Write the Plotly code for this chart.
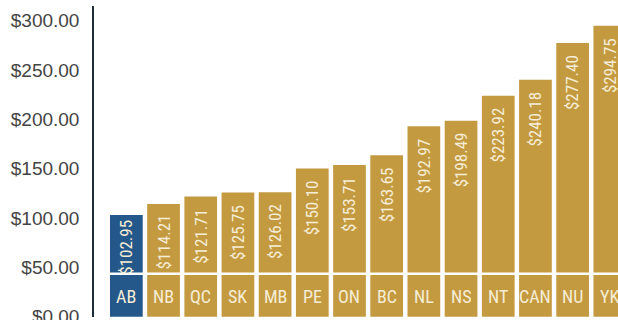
import plotly.graph_objects as go

categories = ["AB", "NB", "QC", "SK", "MB", "PE", "ON", "BC", "NL", "NS", "NT", "CAN", "NU", "YK"]
values = [102.95, 114.21, 121.71, 125.75, 126.02, 150.10, 153.71, 163.65, 192.97, 198.49, 223.92, 240.18, 277.40, 294.75]
highlight = "AB"
tick_vals = [0, 50, 100, 150, 200, 250, 300]
tick_text = ["$0.00", "$50.00", "$100.00", "$150.00", "$200.00", "$250.00", "$300.00"]

GOLD = "#C49A40"
BLUE = "#24578A"
CREAM = "#F6EDD6"
NARROW = "Roboto Condensed, DejaVu Sans Condensed, sans-serif"

W, H = 618, 320
M_L, M_R, M_T, M_B = 94, 0, 6, 3
Y_MIN, Y_MAX = -0.3, 314.8
SEP_Y = 43.5
px_per_unit = (H - M_T - M_B) / (Y_MAX - Y_MIN)

colors = [BLUE if c == highlight else GOLD for c in categories]

fig = go.Figure(
    go.Bar(
        x=categories,
        y=values,
        marker=dict(color=colors, line=dict(width=0)),
        hoverinfo="skip",
        cliponaxis=True,
    )
)

annotations = []
TEXT_LEN = 53
for c, v in zip(categories, values):
    avail = (v - SEP_Y) * px_per_unit
    pad = min(10, max(2, (avail - TEXT_LEN) / 2))
    annotations.append(dict(
        x=c, y=v, xref="x", yref="y", text=f"${v:.2f}", showarrow=False,
        textangle=-90, yanchor="top", xanchor="center", yshift=-pad,
        font=dict(family=NARROW, size=17, color=CREAM),
    ))
    annotations.append(dict(
        x=c, y=0, xref="x", yref="y", text=c, showarrow=False,
        yanchor="middle", xanchor="center", yshift=20,
        font=dict(family=NARROW, size=18, color=CREAM),
    ))

fig.update_layout(
    width=W, height=H,
    margin=dict(l=M_L, r=M_R, t=M_T, b=M_B, pad=0),
    paper_bgcolor="white", plot_bgcolor="white",
    bargap=0.12,
    showlegend=False,
    annotations=annotations,
    shapes=[dict(type="line", xref="paper", yref="y", x0=0.01, x1=1, y0=SEP_Y, y1=SEP_Y,
                 line=dict(color="white", width=2.5), layer="above")],
    xaxis=dict(range=[-0.87, 13.22], showticklabels=False, showgrid=False,
               zeroline=False, showline=False, ticks="", automargin=False),
    yaxis=dict(range=[Y_MIN, Y_MAX], tickvals=tick_vals, ticktext=tick_text,
               showgrid=False, zeroline=False, showline=True, linecolor="#1C2B3A",
               linewidth=1.5, ticks="", ticklabelstandoff=9, ticklabelshift=0,
               ticklabeloverflow="allow", automargin=False,
               tickfont=dict(family="Liberation Sans, Arial, sans-serif", size=19, color="#444444")),
)

fig.write_html(
    "out.html",
    config={"displayModeBar": False},
    post_script="document.body.style.margin='0';document.body.style.overflow='hidden';",
)
